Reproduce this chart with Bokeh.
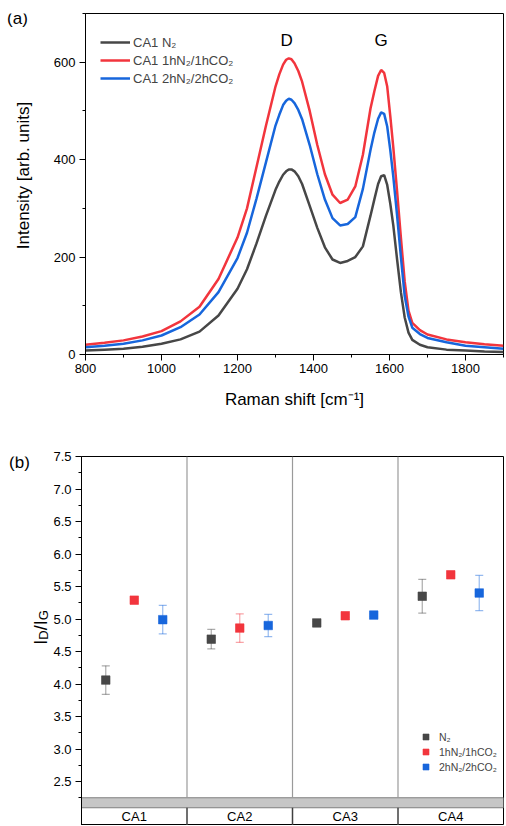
from math import pi
from bokeh.plotting import figure
from bokeh.models import (Range1d, FactorRange, FixedTicker, SingleIntervalTicker, Legend,
                          LegendItem, Whisker, ColumnDataSource, NumeralTickFormatter)
from bokeh.layouts import column, row
from bokeh.transform import dodge
from bokeh.embed import file_html
from bokeh.resources import INLINE
from bokeh.core.properties import value

FONT = "Liberation Sans"

# ---------------- data: (a) Raman spectra ----------------
raman_shift = [800, 850, 900, 950, 1000, 1050, 1100, 1150, 1200, 1225, 1250, 1275, 1300,
               1310, 1320, 1328, 1335, 1342, 1350, 1360, 1370, 1390, 1410, 1430, 1450,
               1470, 1490, 1510, 1530, 1550, 1560, 1570, 1578, 1586, 1594, 1602, 1610,
               1620, 1630, 1640, 1650, 1660, 1680, 1700, 1750, 1800, 1850, 1900]
int_ca1_n2 = [8, 10, 12, 16, 22, 31, 47, 80, 135, 175, 228, 285, 338,
              355, 369, 376, 380, 380, 376, 366, 350, 305, 260, 220, 195,
              188, 192, 200, 222, 285, 318, 350, 366, 368, 348, 310, 265,
              195, 128, 76, 45, 30, 20, 15, 10, 8, 6, 5]
int_ca1_1h = [20, 24, 29, 37, 48, 68, 98, 155, 240, 300, 385, 470, 550,
              575, 595, 605, 608, 606, 598, 582, 560, 500, 430, 370, 328,
              311, 318, 345, 410, 505, 540, 572, 584, 578, 550, 490, 425,
              335, 240, 150, 90, 65, 50, 41, 31, 25, 21, 18]
int_ca1_2h = [15, 18, 22, 29, 39, 56, 82, 128, 198, 250, 320, 395, 470,
              492, 512, 521, 525, 523, 516, 502, 483, 430, 370, 318, 280,
              265, 268, 282, 340, 420, 455, 484, 497, 494, 468, 420, 365,
              285, 200, 120, 78, 55, 42, 34, 25, 18, 15, 12]
series_names = ["CA1 N\u2082", "CA1 1hN\u2082/1hCO\u2082", "CA1 2hN\u2082/2hCO\u2082"]
peak_labels = ["D", "G"]
peak_pos = [1329, 1578]
peak_label_y = [645, 645]

# ---------------- data: (b) ID/IG ratios ----------------
samples = ["CA1", "CA2", "CA3", "CA4"]
ratio_n2 = [4.06, 4.69, 4.94, 5.35]
err_n2 = [0.22, 0.15, 0.02, 0.26]
ratio_1h = [5.29, 4.86, 5.05, 5.68]
err_1h = [0.02, 0.22, 0.02, 0.02]
ratio_2h = [4.99, 4.90, 5.06, 5.40]
err_2h = [0.22, 0.17, 0.02, 0.27]
ratio_names = ["N\u2082", "1hN\u2082/1hCO\u2082", "2hN\u2082/2hCO\u2082"]
y_ticks = [2.5, 3.0, 3.5, 4.0, 4.5, 5.0, 5.5, 6.0, 6.5, 7.0, 7.5]

C_BLACK = "#474747"
C_RED = "#f2353d"
C_BLUE = "#1766dc"

# ---------------- layout constants ----------------
O = 1            # observed page origin offset
W_TOTAL = 504
LW = 50          # width of the narrow title strips
W = W_TOTAL - LW
LEFT = 82 - O - LW
TOP1, FRAME1, BOT1 = 13, 341, 83
H1 = TOP1 + FRAME1 + BOT1
TOP2 = 19
H2 = 826 - O - H1
Y2_TOP = 7.5
PX_PER_UNIT2 = 65.0
frame2_h = H2 - TOP2
Y2_BOTTOM = Y2_TOP - frame2_h / PX_PER_UNIT2

# page-pixel extents of the two plot frames (strip frames align with them)
F1_TOP, F1_BOT = O + TOP1, O + TOP1 + FRAME1
F2_TOP, F2_BOT = O + H1 + TOP2, O + H1 + H2


def style_axis(ax, label_size="13px"):
    ax.major_label_text_font = FONT
    ax.major_label_text_font_size = label_size
    ax.major_label_text_color = "#000000"
    ax.axis_label_text_font = FONT
    ax.axis_label_text_font_size = "17px"
    ax.axis_label_text_font_style = "normal"
    ax.axis_label_text_color = "#000000"
    ax.axis_line_color = "#000000"
    ax.major_tick_line_color = "#000000"
    ax.minor_tick_line_color = "#000000"
    ax.major_tick_out = 6
    ax.major_tick_in = 0
    ax.minor_tick_out = 3
    ax.minor_tick_in = 0


def strip(height, ftop, fbot):
    """Narrow figure for titles; y data = minus page pixel row."""
    s = figure(width=LW, height=height, x_range=Range1d(O, O + LW),
               y_range=Range1d(-fbot, -ftop),
               output_backend="svg", toolbar_location=None, title=None,
               x_axis_location=None, y_axis_location=None, min_border=0)
    s.grid.visible = False
    s.outline_line_color = None
    s.background_fill_color = "white"
    s.border_fill_color = "white"
    return s


# ================= figure (a) =================
p1 = figure(width=W, height=H1, x_range=Range1d(800, 1900), y_range=Range1d(0, 700),
            output_backend="svg", toolbar_location=None,
            min_border_left=LEFT, min_border_right=1, min_border_top=TOP1,
            min_border_bottom=BOT1)
p1.grid.visible = False
p1.outline_line_color = "#000000"
p1.background_fill_color = "white"
p1.border_fill_color = "white"

r_n2 = p1.line(raman_shift, int_ca1_n2, line_color=C_BLACK, line_width=2.5)
r_1h = p1.line(raman_shift, int_ca1_1h, line_color=C_RED, line_width=2.5)
r_2h = p1.line(raman_shift, int_ca1_2h, line_color=C_BLUE, line_width=2.5)

p1.text(x=peak_pos, y=peak_label_y, text=peak_labels, text_font=value(FONT),
        text_font_size="17px", text_align="center", text_baseline="middle",
        text_color="#000000")

p1.xaxis.axis_label = "Raman shift [cm\u207b\u00b9]"
p1.xaxis.ticker = SingleIntervalTicker(interval=200, num_minor_ticks=2)
p1.yaxis.ticker = SingleIntervalTicker(interval=200, num_minor_ticks=2)
style_axis(p1.xaxis[0])
style_axis(p1.yaxis[0])
p1.xaxis.major_label_standoff = 3
p1.xaxis.axis_label_standoff = 14
p1.yaxis.major_label_standoff = 4

leg1 = Legend(items=[LegendItem(label=series_names[0], renderers=[r_n2]),
                     LegendItem(label=series_names[1], renderers=[r_1h]),
                     LegendItem(label=series_names[2], renderers=[r_2h])],
              location=(15, 268))
leg1.margin = 0
leg1.padding = 0
leg1.spacing = 2
leg1.glyph_width = 30
leg1.glyph_height = 16
leg1.label_height = 16
leg1.label_standoff = 3
leg1.label_text_font = FONT
leg1.label_text_font_size = "13px"
leg1.border_line_color = None
leg1.background_fill_alpha = 0
p1.add_layout(leg1)

# left strip for (a): panel tag + y-axis title
s1 = strip(H1, F1_TOP, F1_BOT)
s1.text(x=[18], y=[-19], text=["(a)"], text_font=value(FONT),
        text_font_size="17px", text_align="center", text_baseline="middle",
        text_color="#000000")
s1.text(x=[24], y=[-176], text=["Intensity [arb. units]"],
        angle=pi / 2, text_font=value(FONT), text_font_size="17px",
        text_align="center", text_baseline="middle", text_color="#000000")

# ================= figure (b) =================
p2 = figure(width=W, height=H2, x_range=FactorRange(*samples),
            y_range=Range1d(Y2_BOTTOM, Y2_TOP),
            output_backend="svg", toolbar_location=None, x_axis_location=None,
            min_border_left=LEFT, min_border_right=1, min_border_top=TOP2,
            min_border_bottom=0)
p2.grid.visible = False
p2.outline_line_color = "#000000"
p2.background_fill_color = "white"
p2.border_fill_color = "white"

n = len(samples)
band_top = 2.25
band_bot = band_top - 10 / PX_PER_UNIT2
row_mid = (band_bot + Y2_BOTTOM) / 2

# grouped-axis table: gray band + category row + separators
p2.quad(left=[0], right=[n], bottom=[band_bot], top=[band_top],
        fill_color="#c6c6c6", line_color="#7f7f7f", line_width=1)
sep = list(range(1, n))
p2.segment(x0=sep, x1=sep, y0=[band_top] * len(sep), y1=[Y2_TOP] * len(sep),
           line_color="#9a9a9a", line_width=1.2)
p2.segment(x0=sep, x1=sep, y0=[Y2_BOTTOM] * len(sep), y1=[band_bot] * len(sep),
           line_color="#404040", line_width=1.5)
p2.text(x=samples, y=[row_mid] * n, text=samples, text_font=value(FONT),
        text_font_size="13px", text_align="center", text_baseline="middle",
        text_color="#000000")

src = ColumnDataSource(dict(
    samples=samples,
    n2=ratio_n2, n2_lo=[v - e for v, e in zip(ratio_n2, err_n2)],
    n2_hi=[v + e for v, e in zip(ratio_n2, err_n2)],
    h1=ratio_1h, h1_lo=[v - e for v, e in zip(ratio_1h, err_1h)],
    h1_hi=[v + e for v, e in zip(ratio_1h, err_1h)],
    h2=ratio_2h, h2_lo=[v - e for v, e in zip(ratio_2h, err_2h)],
    h2_hi=[v + e for v, e in zip(ratio_2h, err_2h)],
))

offsets = [-0.27, 0.0, 0.27]
keys = ["n2", "h1", "h2"]
colors = [C_BLACK, C_RED, C_BLUE]
renderers2 = []
for off, k, c in zip(offsets, keys, colors):
    w = Whisker(base=dodge("samples", off, range=p2.x_range), upper=k + "_hi",
                lower=k + "_lo", source=src, line_color=c, line_alpha=0.45,
                line_width=1.2, level="underlay")
    for head in (w.upper_head, w.lower_head):
        head.size = 8
        head.line_color = c
        head.line_alpha = 0.45
        head.line_width = 1.2
    p2.add_layout(w)
    r = p2.scatter(x=dodge("samples", off, range=p2.x_range), y=k, source=src,
                   marker="square", size=8.5, fill_color=c, line_color=c, line_alpha=0.6)
    renderers2.append(r)

p2.yaxis.ticker = FixedTicker(ticks=y_ticks,
                              minor_ticks=[t - 0.25 for t in y_ticks])
p2.yaxis.formatter = NumeralTickFormatter(format="0.0")
style_axis(p2.yaxis[0])
p2.yaxis.major_label_standoff = 4

leg2 = Legend(items=[LegendItem(label=ratio_names[i], renderers=[renderers2[i]])
                     for i in range(3)],
              location=(337, 51))
leg2.margin = 0
leg2.padding = 0
leg2.spacing = 0
leg2.glyph_width = 15
leg2.glyph_height = 15
leg2.label_height = 15
leg2.label_standoff = 6
leg2.label_text_font = FONT
leg2.label_text_font_size = "10.5px"
leg2.border_line_color = None
leg2.background_fill_alpha = 0
p2.add_layout(leg2)

# left strip for (b): panel tag + I_D/I_G axis title
s2 = strip(H2, F2_TOP, F2_BOT)
s2.text(x=[20], y=[-463], text=["(b)"], text_font=value(FONT),
        text_font_size="17px", text_align="center", text_baseline="middle",
        text_color="#000000")
pieces = [("I", "18px", 0, 5.0), ("D", "13px", 3, 9.4),
          ("/I", "18px", 0, 10.0), ("G", "13px", 3, 10.1)]
total = sum(pc[3] for pc in pieces)
cur = 628 + total / 2
for txt, fs, dx, wpx in pieces:
    s2.text(x=[41 + dx], y=[-cur], text=[txt], angle=pi / 2,
            text_font=value(FONT), text_font_size=fs, text_align="left",
            text_baseline="alphabetic", text_color="#000000")
    cur -= wpx

layout = column(row(s1, p1, spacing=0), row(s2, p2, spacing=0), spacing=0)
open("out.html", "w").write(file_html(layout, INLINE))
